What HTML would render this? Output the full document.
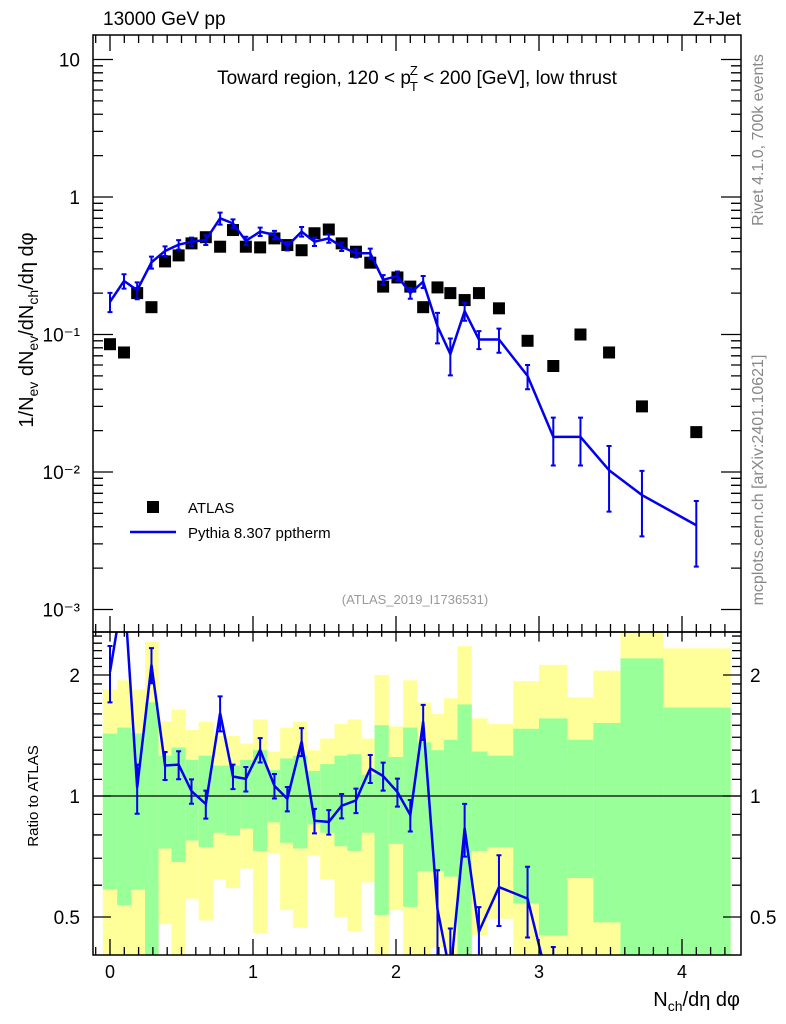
<!DOCTYPE html>
<html><head><meta charset="utf-8"><style>
html,body{margin:0;padding:0;background:#fff;width:786px;height:1024px;overflow:hidden;}
svg{display:block;font-family:"Liberation Sans",sans-serif;}
</style></head><body>
<svg id="chart" width="786" height="1024" viewBox="0 0 786 1024" xmlns="http://www.w3.org/2000/svg">
<g id="bands"></g>
<g id="marks"></g>
<g id="axes"></g>
<text x="103" y="25" font-size="19">13000 GeV pp</text>
<text x="741" y="25" font-size="19" text-anchor="end">Z+Jet</text>
<text x="417" y="84" font-size="19" text-anchor="middle">Toward region, 120 &lt; p<tspan font-size="13" dy="-9" dx="-1">Z</tspan><tspan font-size="13" dy="16" dx="-8">T</tspan><tspan dy="-7"> &lt; 200 [GeV], low thrust</tspan></text>
<text transform="translate(763,140) rotate(-90)" font-size="16" fill="#888" text-anchor="middle">Rivet 4.1.0,  700k events</text>
<text transform="translate(763,480) rotate(-90)" font-size="16" fill="#888" text-anchor="middle">mcplots.cern.ch [arXiv:2401.10621]</text>
<text x="415" y="604" font-size="13" fill="#999" text-anchor="middle">(ATLAS_2019_I1736531)</text>
<rect x="147" y="501" width="12" height="12" fill="#000"/>
<text x="188" y="513" font-size="15">ATLAS</text>
<line x1="130" y1="532" x2="176" y2="532" stroke="#0000ee" stroke-width="2.5"/>
<text x="188" y="538" font-size="15">Pythia 8.307 pptherm</text>
<text transform="translate(33,330) rotate(-90)" font-size="20" text-anchor="middle">1/N<tspan font-size="14" dy="5">ev</tspan><tspan dy="-5"> dN</tspan><tspan font-size="14" dy="5">ev</tspan><tspan dy="-5">/dN</tspan><tspan font-size="14" dy="5">ch</tspan><tspan dy="-5">/dη dφ</tspan></text>
<text transform="translate(38,796) rotate(-90)" font-size="15" text-anchor="middle">Ratio to ATLAS</text>
<text x="740" y="1006" font-size="20" text-anchor="end">N<tspan font-size="14" dy="5">ch</tspan><tspan dy="-5">/dη dφ</tspan></text>
</svg>
<script>
// ---- data ----
const xVals = [0,0.098,0.19,0.29,0.385,0.48,0.57,0.67,0.77,0.86,0.95,1.05,1.15,1.24,1.34,1.43,1.53,1.62,1.72,1.82,1.91,2.01,2.1,2.19,2.29,2.38,2.48,2.58,2.72,2.92,3.1,3.29,3.49,3.72,4.1];
const atlasVals = [0.085,0.074,0.20,0.158,0.34,0.376,0.46,0.51,0.435,0.575,0.435,0.43,0.50,0.447,0.41,0.545,0.58,0.46,0.40,0.333,0.223,0.26,0.223,0.158,0.22,0.20,0.178,0.20,0.155,0.09,0.059,0.10,0.074,0.030,0.0195];
const pythiaVals = [0.173,0.245,0.21,0.335,0.405,0.45,0.473,0.487,0.70,0.643,0.48,0.56,0.53,0.44,0.56,0.473,0.50,0.435,0.39,0.39,0.25,0.266,0.2,0.242,0.115,0.072,0.148,0.092,0.092,0.05,0.018,0.018,0.0103,0.0068,0.0041];
const pythiaRelErr = [0.16,0.12,0.14,0.1,0.08,0.08,0.07,0.08,0.1,0.07,0.07,0.07,0.07,0.07,0.08,0.07,0.07,0.07,0.07,0.08,0.08,0.08,0.09,0.1,0.25,0.3,0.15,0.15,0.2,0.2,0.38,0.38,0.5,0.5,0.5];
const binEdges = [-0.05,0.05,0.15,0.245,0.34,0.43,0.53,0.62,0.72,0.81,0.91,1.0,1.1,1.19,1.28,1.38,1.47,1.57,1.66,1.76,1.85,1.95,2.05,2.15,2.245,2.335,2.43,2.53,2.64,2.82,3.0,3.2,3.38,3.57,3.87,4.34];
const yellowHi = [1.84,1.94,1.84,2.42,1.53,1.64,1.46,1.53,1.41,1.41,1.35,1.55,1.29,1.48,1.53,1.30,1.39,1.51,1.55,1.39,2.0,1.49,1.94,1.71,1.60,1.75,2.36,1.56,1.51,1.93,2.12,1.76,2.05,2.6,2.33];
const greenHi = [1.43,1.48,1.43,1.71,1.26,1.32,1.23,1.26,1.19,1.19,1.23,1.30,1.16,1.24,1.26,1.155,1.20,1.26,1.27,1.13,1.50,1.25,1.48,1.36,1.30,1.38,1.69,1.29,1.26,1.47,1.56,1.38,1.52,2.2,1.66];
const greenLo = [0.585,0.535,0.585,0.3,0.74,0.685,0.775,0.746,0.81,0.80,0.83,0.73,0.86,0.765,0.74,0.85,0.81,0.75,0.73,0.81,0.506,0.76,0.53,0.65,0.65,0.63,0.3,0.73,0.746,0.54,0.45,0.625,0.485,0.3,0.3];
const yellowLo = [0.3,0.3,0.3,0.3,0.48,0.3,0.555,0.49,0.62,0.59,0.66,0.456,0.72,0.52,0.47,0.71,0.62,0.50,0.46,0.61,0.3,0.52,0.3,0.3,0.42,0.3,0.3,0.45,0.495,0.3,0.3,0.3,0.3,0.3,0.3];
const xTicks = [0,1,2,3,4];
const mainYTicks = [10,1,0.1,0.01,0.001];
const mainYLabels = ["10","1","10⁻¹","10⁻²","10⁻³"];
const ratioTicks = [2,1,0.5];
const ratioLabels = ["2","1","0.5"];

// ---- axes ----
const L=93,R=741,T=35,MB=632,RB=955;
const xs = v => 110 + 143*v;
const ysMain = v => 197 - 137.5*Math.log10(v);
const ysRatio = v => 796 - 121*Math.log2(v);
const NS="http://www.w3.org/2000/svg";
function mk(tag, attrs, parent){const e=document.createElementNS(NS,tag);for(const k in attrs)e.setAttribute(k,attrs[k]);parent.appendChild(e);return e;}
const bands=document.getElementById('bands'), marks=document.getElementById('marks'), axes=document.getElementById('axes');
const clampR = v => Math.min(Math.max(ysRatio(v), MB), RB);

for(let i=0;i<binEdges.length-1;i++){
  const x0=xs(binEdges[i]), w=xs(binEdges[i+1])-x0;
  const yb=mk('rect',{x:x0,y:clampR(yellowHi[i]),width:w,height:clampR(yellowLo[i])-clampR(yellowHi[i]),fill:'#ffff99'},bands);
  
  
  const gb=mk('rect',{x:x0,y:clampR(greenHi[i]),width:w,height:clampR(greenLo[i])-clampR(greenHi[i]),fill:'#99ff99'},bands);
  
  
}
const one=mk('line',{x1:L,x2:R,y1:ysRatio(1),y2:ysRatio(1),stroke:'#000','stroke-width':1.2},marks);



xVals.forEach((x,i)=>{
  const s=mk('rect',{x:xs(x)-6,y:ysMain(atlasVals[i])-6,width:12,height:12,fill:'#000'},marks);
  
  
});
const blue='#0000ee';
let d=xVals.map((x,i)=>(i?'L':'M')+xs(x)+','+ysMain(pythiaVals[i])).join('');
const pl=mk('path',{d:d,fill:'none',stroke:blue,'stroke-width':2.5},marks);


xVals.forEach((x,i)=>{
  const px=xs(x), y1=ysMain(pythiaVals[i]*(1+pythiaRelErr[i])), y2=ysMain(pythiaVals[i]*(1-pythiaRelErr[i]));
  const e=mk('path',{d:`M${px},${y1}V${y2}M${px-2.5},${y1}h5M${px-2.5},${y2}h5`,stroke:blue,'stroke-width':2,fill:'none'},marks);
  
  
});
const cg=mk('g',{'clip-path':'url(#rclip)'},marks);
const defs=mk('defs',{},document.getElementById('chart'));
const cp=mk('clipPath',{id:'rclip'},defs);
mk('rect',{x:L,y:MB,width:R-L,height:RB-MB},cp);
const rat=xVals.map((x,i)=>pythiaVals[i]/atlasVals[i]);
d=xVals.map((x,i)=>(i?'L':'M')+xs(x)+','+ysRatio(rat[i])).join('');
const rl=mk('path',{d:d,fill:'none',stroke:blue,'stroke-width':2.5},cg);


xVals.forEach((x,i)=>{
  const px=xs(x), y1=ysRatio(rat[i]*(1+pythiaRelErr[i])), y2=ysRatio(rat[i]*(1-pythiaRelErr[i]));
  const e=mk('path',{d:`M${px},${y1}V${y2}M${px-2.5},${y1}h5M${px-2.5},${y2}h5`,stroke:blue,'stroke-width':2,fill:'none'},cg);
  
  
});

[[T,MB],[MB,RB]].forEach(([a,b])=>{
  const f=mk('rect',{x:L,y:a,width:R-L,height:b-a,fill:'none',stroke:'#000','stroke-width':1.5},axes);
  
  
});
let tp='';
for(let k=-1;k<=43;k++){
  const v=k/10, px=xs(v); if(px<L||px>R) continue;
  const len = (k%10===0)?16:8;
  tp+=`M${px},${T}v${len}M${px},${MB}v${-len}M${px},${MB}v${len*0.6}M${px},${RB}v${-len}`;
}
for(let dec=-3;dec<=1;dec++){
  for(let m=1;m<=9;m++){
    const v=m*Math.pow(10,dec), py=ysMain(v); if(py<T||py>MB) continue;
    const len=m===1?20:10;
    tp+=`M${L},${py}h${len}M${R},${py}h${-len}`;
  }
}
for(let m=4;m<=25;m++){
  const v=m/10; const py=ysRatio(v); if(py<MB||py>RB) continue;
  const major=(m===5||m===10||m===20);
  const len=major?18:9;
  tp+=`M${L},${py}h${len}M${R},${py}h${-len}`;
}
const tk=mk('path',{d:tp,stroke:'#000','stroke-width':1.3,fill:'none'},axes);



xTicks.forEach(v=>{
  const t=mk('text',{x:xs(v),y:978,'font-size':18,'text-anchor':'middle'},axes);t.textContent=v;
  
  
});
mainYTicks.forEach((v,i)=>{
  const t=mk('text',{x:80,y:ysMain(v)+7,'font-size':19,'text-anchor':'end'},axes);t.textContent=mainYLabels[i];
  
  
});
ratioTicks.forEach((v,i)=>{
  const t=mk('text',{x:80,y:ysRatio(v)+7,'font-size':19,'text-anchor':'end'},axes);t.textContent=ratioLabels[i];
  
  
  const t2=mk('text',{x:750,y:ysRatio(v)+7,'font-size':19},axes);t2.textContent=ratioLabels[i];
  
  
});
</script>
</body></html>
